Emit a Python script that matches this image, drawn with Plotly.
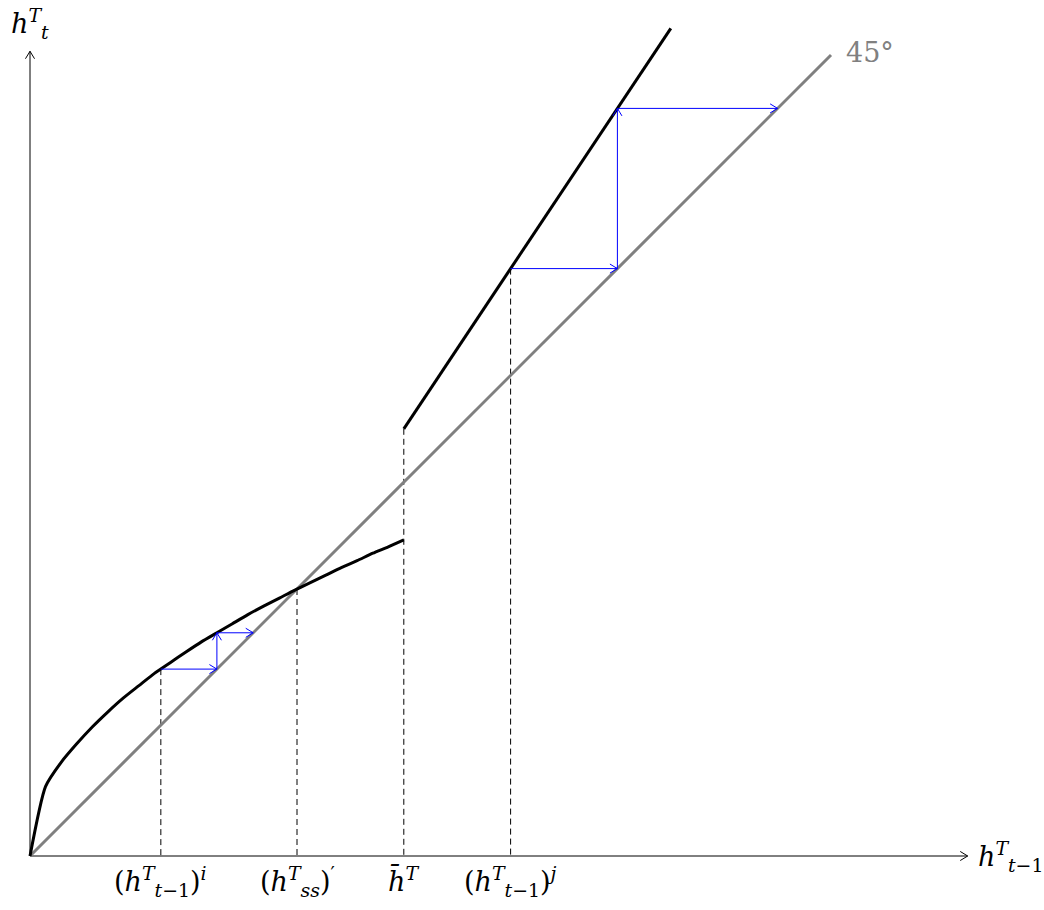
import plotly.graph_objects as go
import math

# ---- data ----
curve_x = [0, 0.29, 0.58, 0.875, 1.17, 1.46, 1.75, 2.04, 2.33, 2.625, 2.92, 3.21, 3.5,
           3.79, 4.08, 4.375, 4.67, 4.96, 5.25, 5.54, 5.83, 6.125, 6.42, 6.71, 7.0]
curve_y = [0, 1.30, 1.75, 2.10, 2.42, 2.70, 2.96, 3.19, 3.42, 3.62, 3.82, 4.01, 4.18,
           4.35, 4.52, 4.68, 4.83, 4.98, 5.12, 5.26, 5.40, 5.53, 5.67, 5.79, 5.92]
upper_x = [7, 12]
upper_y = [8, 15.5]
diag_x = [0, 15]
diag_y = [0, 15]
guide_x = [2.45, 5, 7, 9]
guide_top = [3.5, 5, 8, 11]
tick_labels = [
    "(<i>h</i><sup><i>T</i></sup><sub><i>t</i>−1</sub>)<sup><i>i</i></sup>",
    "(<i>h</i><sup><i>T</i></sup><sub><i>ss</i></sub>)<sup>′</sup>",
    "<i>h̄</i><sup><i>T</i></sup>",
    "(<i>h</i><sup><i>T</i></sup><sub><i>t</i>−1</sub>)<sup><i>j</i></sup>",
]
cob_low = [(2.45, 3.5), (3.5, 3.5), (3.5, 4.18), (4.18, 4.18)]
cob_high = [(9, 11), (11, 11), (11, 14), (14, 14)]
x_axis_end = 17.56
y_axis_end = 15.07

PX = 53.4  # pixels per unit
fig = go.Figure()

def chevron(x0, y0, x1, y1, L=0.14, W=0.085):
    dx, dy = x1 - x0, y1 - y0
    n = math.hypot(dx, dy)
    ux, uy = dx / n, dy / n
    px, py = -uy, ux
    bx, by = x1 - ux * L, y1 - uy * L
    return [bx + px * W, x1, bx - px * W, None], [by + py * W, y1, by - py * W, None]

# axes
fig.add_trace(go.Scatter(x=[0, x_axis_end, None, 0, 0], y=[0, 0, None, 0, y_axis_end],
                         mode="lines", line=dict(color="black", width=1), hoverinfo="skip"))
ax_x, ax_y = [], []
for seg in [(0, 0, x_axis_end, 0), (0, 0, 0, y_axis_end)]:
    cx, cy = chevron(*seg)
    ax_x += cx; ax_y += cy
fig.add_trace(go.Scatter(x=ax_x, y=ax_y, mode="lines", line=dict(color="black", width=1), hoverinfo="skip"))

# dashed guides
gx, gy = [], []
for x, t in zip(guide_x, guide_top):
    gx += [x, x, None]; gy += [t, 0, None]
fig.add_trace(go.Scatter(x=gx, y=gy, mode="lines", line=dict(color="black", width=1, dash="6px,4px"),
                         hoverinfo="skip"))

# 45 degree line
fig.add_trace(go.Scatter(x=diag_x, y=diag_y, mode="lines", line=dict(color="#808080", width=3),
                         hoverinfo="skip"))
# curves
fig.add_trace(go.Scatter(x=curve_x, y=curve_y, mode="lines", line=dict(color="black", width=3, shape="spline", smoothing=0.6),
                         hoverinfo="skip"))
fig.add_trace(go.Scatter(x=upper_x, y=upper_y, mode="lines", line=dict(color="black", width=3),
                         hoverinfo="skip"))

# cobweb arrows
bx, by = [], []
hx, hy = [], []
for path in (cob_low, cob_high):
    for (x0, y0), (x1, y1) in zip(path[:-1], path[1:]):
        bx += [x0, x1, None]; by += [y0, y1, None]
        cx, cy = chevron(x0, y0, x1, y1)
        hx += cx; hy += cy
fig.add_trace(go.Scatter(x=bx, y=by, mode="lines", line=dict(color="#0000ff", width=1), hoverinfo="skip"))
fig.add_trace(go.Scatter(x=hx, y=hy, mode="lines", line=dict(color="#0000ff", width=1), hoverinfo="skip"))

FONT = "DejaVu Serif"
FS = 27
ann = []
for x, lab in zip(guide_x, tick_labels):
    ann.append(dict(x=x, y=-0.08, text=lab, xanchor="center", yanchor="top", showarrow=False,
                    font=dict(family=FONT, size=FS, color="black")))
ann.append(dict(x=x_axis_end + 0.15, y=0, text="<i>h</i><sup><i>T</i></sup><sub><i>t</i>−1</sub>",
                xanchor="left", yanchor="middle", showarrow=False, font=dict(family=FONT, size=FS, color="black")))
ann.append(dict(x=0, y=y_axis_end + 0.12, text="<i>h</i><sup><i>T</i></sup><sub><i>t</i></sub>",
                xanchor="center", yanchor="bottom", showarrow=False, font=dict(family=FONT, size=FS, color="black")))
ann.append(dict(x=15.25, y=15.05, text="45°", xanchor="left", yanchor="middle", showarrow=False,
                font=dict(family=FONT, size=FS, color="#808080")))

x0 = -30 / PX
y0 = -(910 - 856) / PX
fig.update_layout(
    width=1044, height=910, margin=dict(l=0, r=0, t=0, b=0),
    paper_bgcolor="white", plot_bgcolor="white", showlegend=False,
    xaxis=dict(range=[x0, x0 + 1044 / PX], visible=False, fixedrange=True),
    yaxis=dict(range=[y0, y0 + 910 / PX], visible=False, fixedrange=True),
    annotations=ann,
)
fig.write_html("out.html")
